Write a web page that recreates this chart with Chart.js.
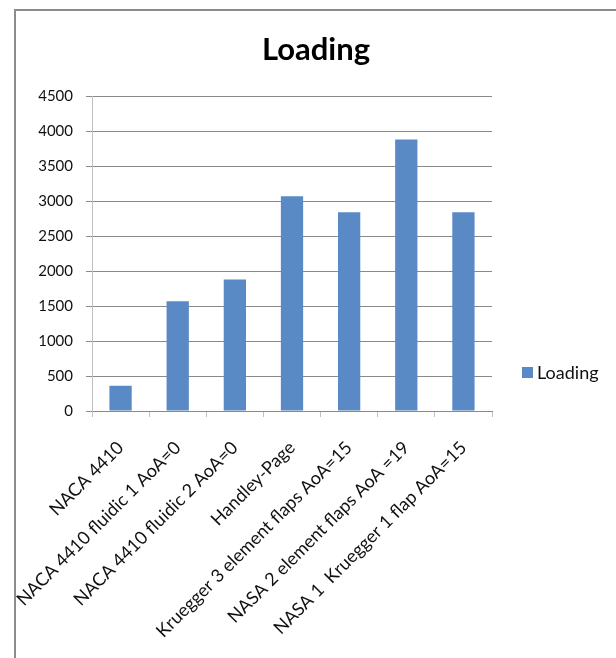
<!DOCTYPE html>
<html>
<head>
<meta charset="utf-8">
<title>Loading</title>
<script src="https://cdn.jsdelivr.net/npm/chart.js@4/dist/chart.umd.min.js"></script>
<style>
    html, body {
        margin: 0;
        padding: 0;
        background: #fff;
    }
    .chart-frame {
        position: absolute;
        left: 14px;
        top: 9px;
        width: 600px;
        height: 647px;
        border-left: 2px solid #8c8c8c;
        border-top: 2px solid #8c8c8c;
    }
    #loadingChart {
        display: block;
    }
    .legend {
        position: absolute;
        left: 506px;
        top: 351px;
        height: 20px;
        display: flex;
        align-items: center;
        font-family: Lato, "Open Sans", sans-serif;
        font-size: 18px;
        line-height: 20px;
        color: #111;
        white-space: nowrap;
    }
    .legend-box {
        width: 11px;
        height: 11px;
        background: #5a8ac6;
        margin-right: 4px;
    }
</style>
</head>
<body>
<div class="chart-frame">
    <canvas id="loadingChart" width="600" height="647"></canvas>
    <div class="legend"><span class="legend-box"></span>Loading</div>
</div>
<script>
// 数据
const categories = [
    'NACA 4410',
    'NACA 4410 fluidic 1 AoA=0',
    'NACA 4410 fluidic 2 AoA=0',
    'Handley-Page',
    'Kruegger 3 element flaps AoA=15',
    'NASA 2 element flaps AoA =19',
    'NASA 1  Kruegger 1 flap AoA=15'
];
const loadingValues = [360, 1570, 1880, 3070, 2840, 3880, 2840];
const yMin = 0;
const yMax = 4500;
const yStep = 500;

const FONT = 'Lato, "Open Sans", sans-serif';
const BAR_COLOR = '#5a8ac6';
const GRID_COLOR = '#8a8a8a';
const AXIS_COLOR = '#c0c0c0';

// 绘图区尺寸（画布坐标）
const PLOT_LEFT = 76;
const LEGEND_SPACE = 124;
const X_AXIS_HEIGHT = 247;

const ctx = document.getElementById('loadingChart').getContext('2d');
new Chart(ctx, {
    type: 'bar',
    data: {
        labels: categories,
        datasets: [{
            label: 'Loading',
            data: loadingValues,
            backgroundColor: BAR_COLOR,
            borderWidth: 0,
            barPercentage: 0.39,
            categoryPercentage: 1
        }]
    },
    options: {
        responsive: false,
        animation: false,
        plugins: {
            legend: { display: false },
            tooltip: { enabled: false },
            title: {
                display: true,
                text: 'Loading',
                color: '#000',
                font: { family: FONT, size: 31, weight: 'bold', lineHeight: 1.2 },
                padding: { top: 20, bottom: 28 }
            }
        },
        scales: {
            x: {
                grid: {
                    display: true,
                    drawOnChartArea: false,
                    drawTicks: true,
                    tickLength: 6,
                    offset: true,
                    color: AXIS_COLOR
                },
                border: { display: true, color: GRID_COLOR, width: 1 },
                ticks: {
                    autoSkip: false,
                    minRotation: 45,
                    maxRotation: 45,
                    padding: 20,
                    color: '#111',
                    font: { family: FONT, size: 18 }
                },
                afterFit: (scale) => {
                    scale.height = X_AXIS_HEIGHT;
                }
            },
            y: {
                min: yMin,
                max: yMax,
                grid: {
                    color: GRID_COLOR,
                    drawTicks: true,
                    tickLength: 6
                },
                border: { display: true, color: AXIS_COLOR, width: 1 },
                ticks: {
                    stepSize: yStep,
                    padding: 13,
                    color: '#111',
                    font: { family: FONT, size: 15 },
                    callback: (value) => String(value)
                },
                afterFit: (scale) => {
                    scale.width = PLOT_LEFT;
                }
            },
            // 右侧留白给图例，标题仍按整个画布居中
            legendSpace: {
                type: 'linear',
                position: 'right',
                display: true,
                grid: { display: false },
                border: { display: false },
                ticks: { display: false },
                afterFit: (scale) => {
                    scale.width = LEGEND_SPACE;
                }
            }
        }
    }
});
</script>
</body>
</html>
